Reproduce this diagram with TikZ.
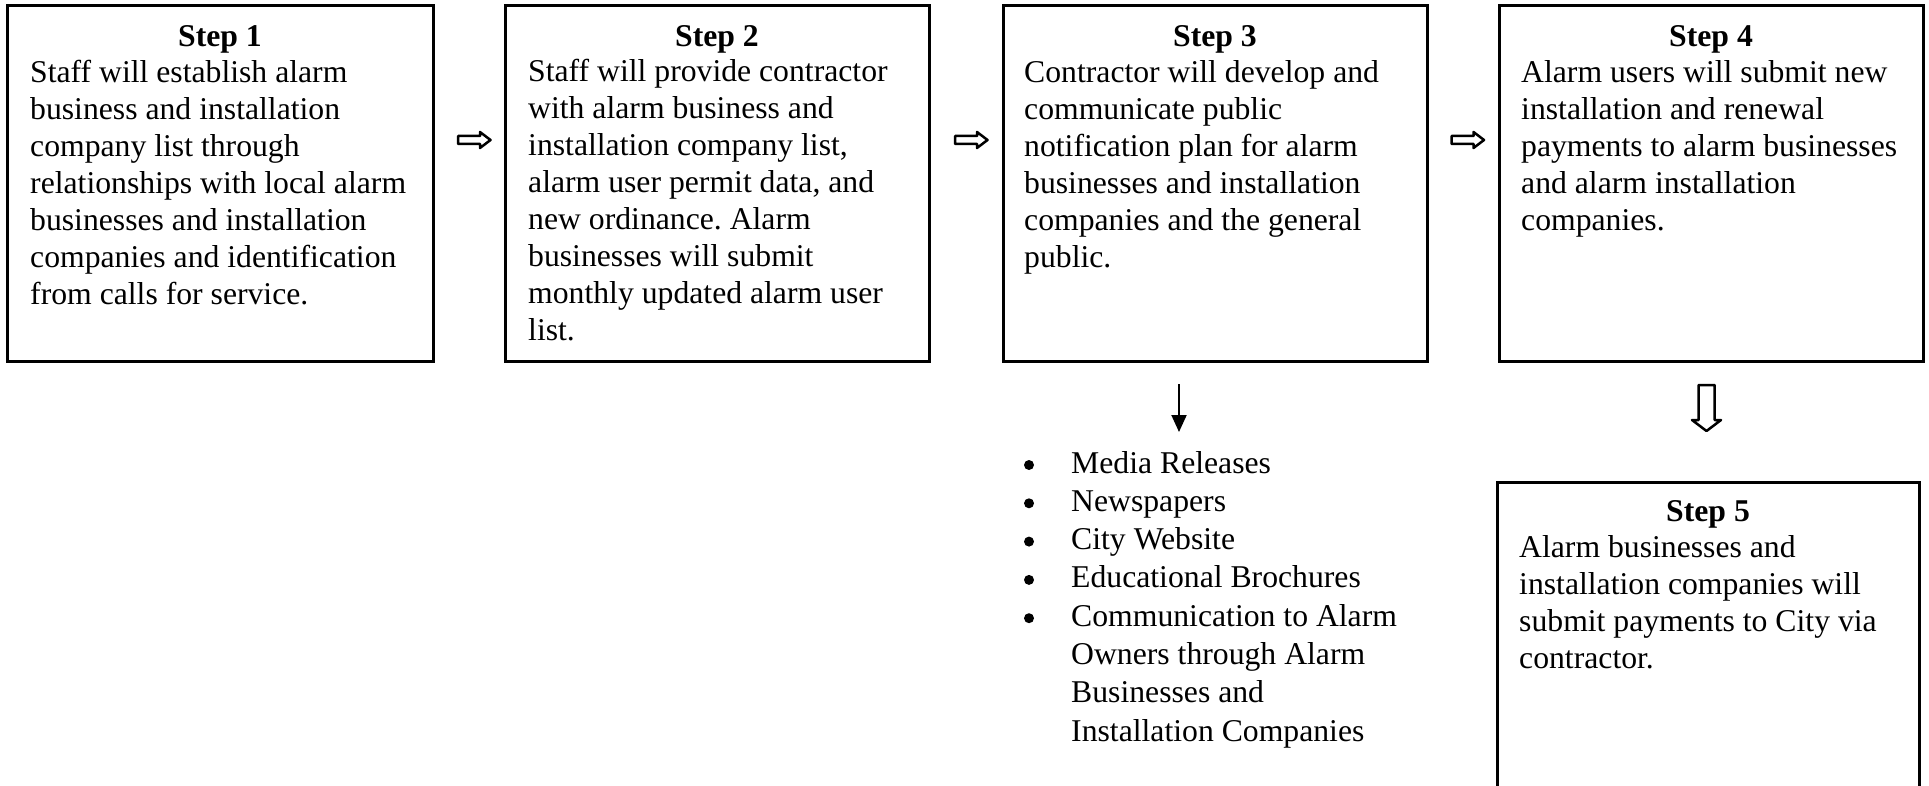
\documentclass[tikz,border=0pt]{standalone}
\usepackage{fontspec}
\setmainfont{Liberation Serif}
\frenchspacing
\usetikzlibrary{arrows.meta}
\begin{document}
\begin{tikzpicture}[x=1pt,y=-1pt,
  stepbox/.style={draw, line width=3pt, rectangle, inner sep=0pt, minimum height=355pt},
  ttl/.style={anchor=base, inner sep=0pt, font=\fontsize{31.7}{37}\selectfont\bfseries},
  body/.style={anchor=base west, inner sep=0pt, font=\fontsize{31.7}{37}\selectfont},
  listtext/.style={anchor=base west, inner sep=0pt, font=\fontsize{31.7}{38.3}\selectfont},
  bulletdot/.style={circle, fill, inner sep=0pt, minimum size=10pt},
  blockarrow/.style={draw, line width=2.5pt, line join=round},
  thinarrow/.style={line width=2pt, -{Triangle[width=15pt,length=17pt]}},
  harrow/.pic={\draw[blockarrow] (-16.5,-4) -- (5.5,-4) -- (5.5,-8) -- (16,0) -- (5.5,8) -- (5.5,4) -- (-16.5,4) -- cycle;}
]
\useasboundingbox (0,0) rectangle (1929,786);
\clip (0,0) rectangle (1929,786);

% boxes
\node[stepbox, minimum width=426pt] (b1) at (220,183.5) {};
\node[stepbox, minimum width=424pt] (b2) at (717,183.5) {};
\node[stepbox, minimum width=424pt] (b3) at (1215,183.5) {};
\node[stepbox, minimum width=424pt] (b4) at (1711,183.5) {};
\node[stepbox, minimum width=422pt, minimum height=318pt] (b5) at (1708,641) {};

% titles
\node[ttl] (t1) at (b1.center |- 0,47) {Step 1};
\node[ttl] (t2) at (b2.center |- 0,47) {Step 2};
\node[ttl] (t3) at (b3.center |- 0,47) {Step 3};
\node[ttl] (t4) at (b4.center |- 0,47) {Step 4};
\node[ttl] (t5) at (b5.center |- 0,521) {Step 5};

% bodies
\node[body] (x1) at (30,83) {\begin{tabular}[t]{@{}l@{}}Staff will establish alarm\\ business and installation\\ company list through\\ relationships with local alarm\\ businesses and installation\\ companies and identification\\ from calls for service.\end{tabular}};
\node[body] (x2) at (528,82) {\begin{tabular}[t]{@{}l@{}}Staff will provide contractor\\ with alarm business and\\ installation company list,\\ alarm user permit data, and\\ new ordinance. Alarm\\ businesses will submit\\ monthly updated alarm user\\ list.\end{tabular}};
\node[body] (x3) at (1024,83) {\begin{tabular}[t]{@{}l@{}}Contractor will develop and\\ communicate public\\ notification plan for alarm\\ businesses and installation\\ companies and the general\\ public.\end{tabular}};
\node[body] (x4) at (1521,83) {\begin{tabular}[t]{@{}l@{}}Alarm users will submit new\\ installation and renewal\\ payments to alarm businesses\\ and alarm installation\\ companies.\end{tabular}};
\node[body] (x5) at (1519,557) {\begin{tabular}[t]{@{}l@{}}Alarm businesses and\\ installation companies will\\ submit payments to City via\\ contractor.\end{tabular}};

% bullet list
\foreach \i in {0,...,4} {
  \node[bulletdot] (d\i) at (1029,{465+38.3*\i}) {};
}
\node[listtext] (lst) at (1071,473) {\begin{tabular}[t]{@{}l@{}}Media Releases\\ Newspapers\\ City Website\\ Educational Brochures\\ Communication to Alarm\\ Owners through Alarm\\ Businesses and\\ Installation Companies\end{tabular}};

% horizontal block arrows
\pic at (474.5,140) {harrow};
\pic at (971.5,140) {harrow};
\pic at (1468,140) {harrow};

% thin arrow from step 3 to list
\coordinate (s3) at (1179,384);
\coordinate (e3) at (1179,432);
\draw[thinarrow] (s3) -- (e3);

% hollow down arrow from step 4 to step 5
\draw[blockarrow] (1698.5,385) -- (1714.5,385) -- (1714.5,420) -- (1721,420) -- (1706.5,431) -- (1692,420) -- (1698.5,420) -- cycle;
\end{tikzpicture}
\end{document}
